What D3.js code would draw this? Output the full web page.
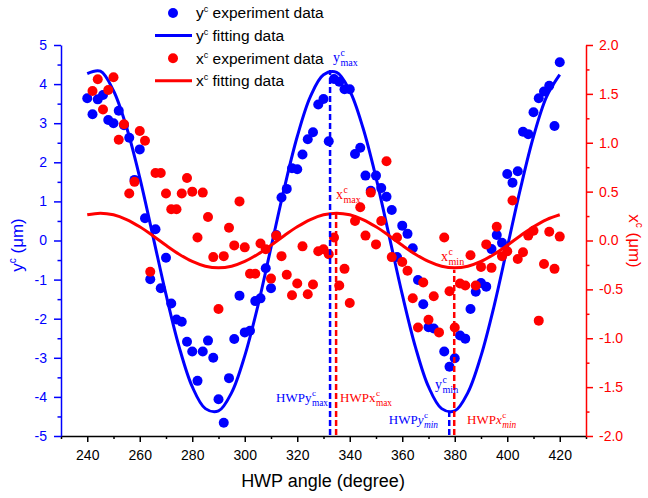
<!DOCTYPE html>
<html>
<head>
<meta charset="utf-8">
<script src="https://cdn.jsdelivr.net/npm/d3@7"></script>
<style>
  body { margin: 0; background: #fff; }
  text { font-family: Arial, "Liberation Sans", sans-serif; }
  .serif text { font-family: "Times New Roman", "Liberation Serif", serif; }
</style>
</head>
<body>
<svg id="chart" width="648" height="498"></svg>
<script>
// y^c experiment data (left axis, um)
var yExpAngle = [240,242,244,246,248,250,252,254,256,258,260,262,264,266,268,270,272,274,276,278,
  280,282,284,286,288,290,292,294,296,298,300,302,304,306,308,310,312,314,316,318,
  320,322,324,326,328,330,332,334,336,338,340,342,344,346,348,350,352,354,356,358,
  360,362,364,366,368,370,372,376,378,380,382,384,386,388,390,392,394,396,398,
  400,402,404,406,408,410,412,414,416,418,420];
var yExpValue = [3.64,3.23,3.61,3.72,3.08,3.00,3.32,2.95,2.63,1.55,2.33,0.57,-0.99,0.29,-1.22,-0.44,-1.61,-2.02,-2.08,-2.59,
  -2.84,-3.59,-2.84,-2.56,-3.00,-4.06,-4.66,-3.52,-2.52,-1.41,-2.35,-2.31,-1.55,-1.48,-0.71,-1.22,0.14,1.10,1.32,1.85,
  1.82,2.20,2.59,2.77,3.48,3.62,2.54,4.13,4.06,3.87,3.87,2.21,2.37,1.66,1.27,1.66,1.34,1.12,0.78,-0.42,
  0.38,0.17,-0.20,-1.01,-1.63,-2.22,-2.25,-2.84,-3.23,-3.01,-2.43,-2.51,-1.75,-1.31,-1.09,-1.18,-0.22,0.14,-0.06,
  1.70,1.48,1.77,2.78,2.72,3.28,3.64,3.81,3.96,2.93,4.56];

// x^c experiment data (right axis, um)
var xExpAngle = [242,244,246,248,250,252,254,256,258,260,262,264,266,268,270,272,274,276,278,
  280,282,284,286,288,290,292,294,296,298,300,302,304,306,308,310,312,314,316,318,
  320,322,324,326,328,330,332,334,336,338,340,342,344,346,348,350,352,354,356,358,
  360,362,364,366,368,370,372,374,376,378,380,382,384,386,388,390,392,394,396,398,
  400,402,404,406,408,410,412,414,416,418,420];
var xExpValue = [1.53,1.65,1.34,1.54,1.67,1.03,1.19,0.48,0.60,1.12,1.02,-0.32,0.69,0.69,0.48,0.32,0.32,0.48,0.64,
  0.50,0.03,0.49,0.24,-0.17,-0.70,-0.16,0.13,-0.05,0.40,-0.07,-0.34,-0.34,-0.03,-0.09,-0.39,0.05,-0.16,-0.35,-0.56,
  -0.44,-0.06,-0.55,-0.45,-0.11,-0.09,-0.14,0.03,-0.46,-0.29,-0.64,0.20,0.34,0.05,0.49,-0.04,0.20,0.81,-0.17,0.03,
  -0.22,-0.31,-0.59,-0.89,-0.43,-0.81,-0.57,-0.94,0.03,-0.52,-0.89,-0.44,-0.46,-0.15,-0.46,-0.27,-0.04,-0.28,0.14,-0.16,
  -0.11,0.41,-0.19,-0.12,0.05,0.10,-0.82,-0.24,0.09,-0.29,0.04];

// fitting curves every 5 degrees
var fitAngle = [240,245,250,255,260,265,270,275,280,285,290,295,300,305,310,315,320,325,330,
  335,340,345,350,355,360,365,370,375,380,385,390,395,400,405,410,415,420];
var yFitValue = [4.27,4.33,3.83,2.89,1.61,0.12,-1.38,-2.72,-3.74,-4.30,-4.36,-3.89,-2.95,-1.67,-0.18,1.32,2.66,3.68,4.24,
  4.30,3.83,2.89,1.61,0.12,-1.38,-2.72,-3.74,-4.30,-4.36,-3.89,-2.95,-1.67,-0.18,1.32,2.66,3.68,4.24];
var xFitValue = [0.263,0.28,0.263,0.214,0.14,0.049,-0.049,-0.14,-0.214,-0.263,-0.28,-0.263,-0.214,-0.14,-0.049,0.049,0.14,0.214,0.263,
  0.28,0.263,0.214,0.14,0.049,-0.049,-0.14,-0.214,-0.263,-0.28,-0.263,-0.214,-0.14,-0.049,0.049,0.14,0.214,0.263];

// marker lines for the extrema
var markerAngle = [332.5, 334.8, 377.9, 379.8];
var markerValue = [4.36, 0.27, -4.38, -0.30];
var markerSide = ["left", "right", "left", "right"];

// tick labels
var xTicks = [240,260,280,300,320,340,360,380,400,420];
var xMinorTicks = [230,250,270,290,310,330,350,370,390,410,430];
var yLeftTicks = [-5,-4,-3,-2,-1,0,1,2,3,4,5];
var yLeftMinor = [-4.5,-3.5,-2.5,-1.5,-0.5,0.5,1.5,2.5,3.5,4.5];
var yRightTicks = [-2,-1.5,-1,-0.5,0,0.5,1,1.5,2];
var yRightMinor = [-1.75,-1.25,-0.75,-0.25,0.25,0.75,1.25,1.75];

var BLUE = "#0000ff", RED = "#ff0000";

var svg = d3.select("#chart");

var x = d3.scaleLinear().domain([230, 430]).range([61, 586]);
var yL = d3.scaleLinear().domain([-5, 5]).range([436, 45]);
var yR = d3.scaleLinear().domain([-2, 2]).range([436, 45]);

function styleAxis(g, color) {
  g.select(".domain").attr("stroke", color).attr("stroke-width", 1.5);
  g.selectAll(".tick line").attr("stroke", color).attr("stroke-width", 1.5);
  g.selectAll(".tick text").attr("fill", color).attr("font-size", 14)
    .attr("font-family", "Arial, 'Liberation Sans', sans-serif");
}

// minor ticks first, then major axes on top
svg.append("g").attr("transform", "translate(0,436)")
  .call(d3.axisBottom(x).tickValues(xMinorTicks).tickSize(3).tickSizeOuter(0).tickFormat(""))
  .call(g => { g.select(".domain").remove(); g.selectAll("line").attr("stroke", "#000").attr("stroke-width", 1.5); });
svg.append("g").attr("transform", "translate(61,0)")
  .call(d3.axisLeft(yL).tickValues(yLeftMinor).tickSize(3.5).tickSizeOuter(0).tickFormat(""))
  .call(g => { g.select(".domain").remove(); g.selectAll("line").attr("stroke", BLUE).attr("stroke-width", 1.5); });
svg.append("g").attr("transform", "translate(586,0)")
  .call(d3.axisRight(yR).tickValues(yRightMinor).tickSize(3.5).tickSizeOuter(0).tickFormat(""))
  .call(g => { g.select(".domain").remove(); g.selectAll("line").attr("stroke", RED).attr("stroke-width", 1.5); });

svg.append("g").attr("transform", "translate(0,436)")
  .call(d3.axisBottom(x).tickValues(xTicks).tickSize(6).tickPadding(8).tickSizeOuter(0))
  .call(g => styleAxis(g, "#000"));
svg.append("g").attr("transform", "translate(61,0)")
  .call(d3.axisLeft(yL).tickValues(yLeftTicks).tickSize(7).tickPadding(7).tickSizeOuter(0).tickFormat(d => String(d)))
  .call(g => styleAxis(g, BLUE));
svg.append("g").attr("transform", "translate(586,0)")
  .call(d3.axisRight(yR).tickValues(yRightTicks).tickSize(7).tickPadding(6).tickSizeOuter(0).tickFormat(d => d.toFixed(1)))
  .call(g => styleAxis(g, RED));

// axis titles
svg.append("text").attr("x", 323).attr("y", 487).attr("text-anchor", "middle")
  .attr("font-size", 18).text("HWP angle (degree)");

function supTitle(tr, letter, color) {
  var t = svg.append("text").attr("transform", tr).attr("text-anchor", "middle")
    .attr("dy", "0.35em").attr("font-size", 17).attr("fill", color);
  t.append("tspan").text(letter);
  t.append("tspan").attr("dy", -7).attr("font-size", 10).text("c");
  t.append("tspan").attr("dy", 7).text(" (\u03bcm)");
}
supTitle("translate(17,245) rotate(-90)", "y", BLUE);
supTitle("translate(635,241) rotate(90)", "x", RED);

// scatter + fits
svg.append("g").selectAll("circle")
  .data(yExpAngle)
  .enter().append("circle")
    .attr("cx", d => x(d))
    .attr("cy", (d, i) => yL(yExpValue[i]))
    .attr("r", 5)
    .attr("fill", BLUE);

var yLine = d3.line()
  .x(d => x(d))
  .y((d, i) => yL(yFitValue[i]))
  .curve(d3.curveCatmullRom);
svg.append("path").attr("d", yLine(fitAngle)).attr("fill", "none")
  .attr("stroke", BLUE).attr("stroke-width", 3);

svg.append("g").selectAll("circle")
  .data(xExpAngle)
  .enter().append("circle")
    .attr("cx", d => x(d))
    .attr("cy", (d, i) => yR(xExpValue[i]))
    .attr("r", 5)
    .attr("fill", RED);

var xLine = d3.line()
  .x(d => x(d))
  .y((d, i) => yR(xFitValue[i]))
  .curve(d3.curveCatmullRom);
svg.append("path").attr("d", xLine(fitAngle)).attr("fill", "none")
  .attr("stroke", RED).attr("stroke-width", 3);

// dashed marker lines
markerAngle.forEach(function(a, i) {
  var sc = markerSide[i] == "left" ? yL : yR;
  svg.append("line")
    .attr("x1", x(a)).attr("x2", x(a))
    .attr("y1", 435).attr("y2", sc(markerValue[i]))
    .attr("stroke", markerSide[i] == "left" ? BLUE : RED)
    .attr("stroke-width", 2.5)
    .attr("stroke-dasharray", "6,3");
});

// annotation labels with super/subscripts
function mathLabel(px, py, prefix, base, sub, color, italic, size, anchor) {
  var g = svg.append("g").attr("class", "serif").attr("fill", color);
  var main = g.append("text").attr("font-size", size);
  if (prefix) main.append("tspan").text(prefix);
  main.append("tspan").attr("font-style", italic ? "italic" : null).text(base);
  var w = main.node().getComputedTextLength();
  g.append("text").attr("x", w + 0.5).attr("y", -size * 0.45).attr("font-size", size * 0.7).text("c");
  var s = g.append("text").attr("x", w + 0.5).attr("y", size * 0.28).attr("font-size", size * 0.72)
    .attr("font-style", italic ? "italic" : null).text(sub);
  var total = w + 0.5 + s.node().getComputedTextLength();
  var tx = anchor == "end" ? px - total : px;
  g.attr("transform", "translate(" + tx + "," + py + ")");
}
mathLabel(333, 62, "", "y", "max", BLUE, false, 14, "start");
mathLabel(336, 199, "", "x", "max", RED, false, 14, "start");
mathLabel(441, 261, "", "x", "min", RED, false, 14, "start");
mathLabel(435, 389, "", "y", "min", BLUE, false, 14, "start");
mathLabel(328, 402, "HWP", "y", "max", BLUE, false, 13, "end");
mathLabel(340, 402, "HWP", "x", "max", RED, false, 13, "start");
mathLabel(438, 424, "HWP", "y", "min", BLUE, true, 13, "end");
mathLabel(467, 424, "HWP", "x", "min", RED, true, 13, "start");

// legend
var legendRows = [
  {label: "y", rest: " experiment data", color: BLUE, type: "dot"},
  {label: "y", rest: " fitting data", color: BLUE, type: "line"},
  {label: "x", rest: " experiment data", color: RED, type: "dot"},
  {label: "x", rest: " fitting data", color: RED, type: "line"}
];
var legend = svg.append("g");
legendRows.forEach(function(d, i) {
  var ly = 13 + i * 22.6;
  if (d.type == "dot") {
    legend.append("circle").attr("cx", 173).attr("cy", ly).attr("r", 5).attr("fill", d.color);
  } else {
    legend.append("line").attr("x1", 155).attr("x2", 192).attr("y1", ly).attr("y2", ly)
      .attr("stroke", d.color).attr("stroke-width", 3);
  }
  var t = legend.append("text").attr("x", 196).attr("y", ly).attr("dy", "0.35em").attr("font-size", 15.5);
  t.append("tspan").text(d.label);
  t.append("tspan").attr("dy", -6).attr("font-size", 9).text("c");
  t.append("tspan").attr("dy", 6).text(d.rest);
});
</script>
</body>
</html>
